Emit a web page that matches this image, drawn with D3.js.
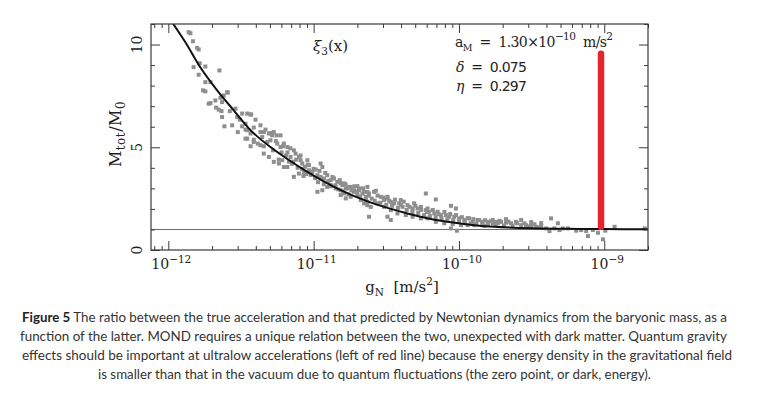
<!DOCTYPE html>
<html><head><meta charset="utf-8">
<script src="https://cdn.jsdelivr.net/npm/d3@7"></script>
<style>
html,body{margin:0;padding:0;background:#fff;}
svg{display:block;}
</style>
</head><body>
<svg id="c" width="757" height="393"></svg>
<script>
// ---------- data ----------
const xDomain = [7.6e-13, 2.0e-9];
const yDomain = [0, 11];
const xMajorTicks = [1e-12, 1e-11, 1e-10, 1e-9];
const xTickExponents = ["−12", "−11", "−10", "−9"];
const yMajorTicks = [0, 5, 10];
const yMinorTicks = [1, 2, 3, 4, 6, 7, 8, 9, 11];
const unityRatio = 1;

// fitted curve (log10 gN, Mtot/M0)
const curveLogG = [-12.0, -11.968, -11.871, -11.779, -11.664, -11.55, -11.434, -11.297, -11.043, -10.814, -10.62, -10.354, -10.124, -9.894, -9.757, -9.5, -9.25, -9.0, -8.7];
const curveRatio = [11.4, 11.03, 9.98, 8.88, 7.77, 6.8, 5.83, 5.01, 3.80, 2.91, 2.34, 1.78, 1.42, 1.21, 1.13, 1.06, 1.03, 1.02, 1.01];

// red marker line
const redLineG = 9.5e-10;
const redLineRange = [1.13, 9.55];

// scatter points (log10 gN)
const scatterLogG = [
-11.860,-11.848,-11.830,-11.802,-11.791,-11.826,-11.784,-11.745,-11.648,-11.791,-11.745,-11.710,-11.761,-11.745,-11.591,-11.676,-11.641,-11.630,-11.710,-11.619,
-11.671,-11.653,-11.634,-11.577,-11.538,-11.630,-11.614,-11.561,-11.526,-11.508,-11.457,-11.430,-11.400,-11.492,-11.469,-11.522,-11.434,-11.412,-11.366,-11.331,
-11.297,-11.457,-11.412,-11.384,-11.354,-11.319,-11.255,-11.434,-11.343,-11.722,-11.595,
-11.492,-11.434,-11.469,-11.457,-11.469,-11.412,-11.366,-11.343,-11.308,-11.285,-11.274,-11.228,-11.297,-11.250,-11.228,-11.205,-11.181,-11.366,-11.343,-11.308,
-11.274,-11.239,-11.216,-11.205,-11.181,-11.159,-11.136,-11.124,-11.101,-11.090,-11.078,-11.043,-11.032,-11.136,-11.101,-11.067,-11.032,-11.009,-10.986,-10.952,
-10.940,-10.974,-10.952,-10.929,-10.906,-10.883,-10.860,-10.837,-10.814,-10.974,-10.940,-10.906,-10.883,-10.848,-10.814,-10.791,-10.768,-10.745,-10.722,-10.699,
-10.688,-10.664,-10.641,-10.630,-10.619,-10.745,-10.779,-10.814,-10.676,-10.653,-10.630,
-10.802,-10.779,-10.757,-10.722,-10.688,-10.653,-10.619,-10.584,-10.572,-10.538,-10.515,-10.492,-10.469,-10.446,-10.412,-10.388,-10.354,-10.319,-10.285,-10.262,
-10.228,-10.205,-10.170,-10.147,-10.124,-10.090,-10.067,-10.032,-9.998,-9.963,-9.929,-9.906,-9.871,-9.837,-9.802,-9.768,-9.733,
-10.630,-10.607,-10.561,-10.515,-10.469,-10.423,-10.366,-10.319,-10.262,-10.216,-10.159,-10.101,-10.043,-9.986,-9.940,-9.894,-9.826,
-10.791,-10.699,-10.630,-10.492,-10.400,-10.308,-10.216,
-10.492,-10.469,-10.228,-10.159,-10.055,-10.021,-10.055,-10.014,
-9.768,-9.745,-9.710,-9.676,-9.641,-9.607,-9.572,-9.538,-9.503,-9.469,-9.434,-9.400,-9.366,-9.377,-9.343,-9.319,-9.308,-9.285,-9.250,-9.193,
-9.159,-9.124,-9.112,-9.078,-9.043,-9.009,-8.993,-8.929,-8.722,-9.676,-9.572,-9.503,-9.434,
-11.22,-11.19,-11.17,-11.15,-11.12,-11.11,-11.08,-11.06,-11.05,-11.02,-11.00,-10.99,-10.97,-10.96,-10.93,-10.92,-10.90,-10.88,-10.87,-10.85,
-10.83,-10.82,-10.80,-10.78,-10.76,-10.74,-10.72,-10.70,-10.68,-10.66,-10.64,-10.62,-10.60,-10.58,-10.56,-10.54,-10.52,-10.50,-10.48,-10.46,
-10.44,-10.42,-10.40,-10.38,-10.36,-10.34,-10.32,-10.30,-10.28,-10.26,-10.24,-10.22,-10.20,-10.18,-10.16,-10.14,-10.12,-10.10,-10.08,-10.06,
-10.04,-10.02,-10.00,-9.98,-9.96,-9.94,-9.92,-9.90,-9.88,-9.86,-9.84,-9.82,-9.80,-9.78,-9.75,-9.72,-9.69,-9.66,-9.63,-9.60,
-9.55,-9.52,-9.48,-9.45,-11.28,-11.26,-11.24,-11.21,-11.18,-11.16,-11.14,-11.09,-11.04,-11.07
];
const scatterRatio = [
10.60,10.55,10.16,9.84,9.76,8.90,9.09,8.93,8.74,8.53,8.17,8.17,7.77,7.72,7.66,7.28,7.41,7.20,7.15,7.52,
6.93,6.83,6.76,6.76,6.88,6.47,6.02,6.07,6.47,6.34,6.64,6.59,6.34,6.02,5.86,5.74,5.67,5.96,5.74,5.86,
5.69,5.42,5.37,5.18,5.50,5.26,5.58,5.05,5.05,7.12,7.68,
6.64,6.60,6.15,5.83,5.42,5.26,6.07,5.74,5.67,5.58,5.74,5.58,5.34,5.18,5.01,5.18,5.01,5.10,4.69,4.53,
4.29,4.21,4.37,4.04,4.04,4.53,4.85,4.69,4.53,4.37,4.21,4.37,4.13,3.56,3.72,3.80,3.88,3.80,3.92,4.21,
4.04,3.64,3.56,3.48,3.64,3.40,3.48,3.32,3.24,2.83,2.91,3.07,3.16,3.00,2.91,2.75,3.00,3.07,2.83,2.67,
2.91,2.75,2.59,2.83,1.62,2.59,2.51,2.67,2.43,2.27,2.18,
3.16,3.00,3.07,2.91,3.00,2.83,2.75,2.83,2.88,2.59,2.43,2.51,2.34,2.27,2.27,2.10,2.18,2.02,2.02,2.10,
1.94,1.86,1.78,1.86,1.70,1.70,1.62,1.62,1.54,1.46,1.54,1.37,1.46,1.37,1.37,1.30,1.30,
2.34,2.10,2.27,2.10,1.94,1.78,1.70,1.62,1.54,1.54,1.37,1.30,1.26,1.21,1.21,1.21,1.18,
3.24,3.11,3.07,2.59,2.43,2.27,2.02,
1.62,1.46,2.75,2.46,2.15,2.02,1.05,0.94,
1.46,1.37,1.37,1.33,1.30,1.37,1.21,1.21,1.17,1.13,1.17,1.05,1.54,0.92,1.05,1.30,0.97,1.05,1.05,0.94,
0.97,0.92,0.68,0.97,0.84,0.52,0.94,1.13,1.05,1.50,1.46,1.36,1.31,
4.75,4.60,4.30,4.20,4.40,4.00,3.95,4.05,3.70,3.65,3.95,3.50,3.30,3.85,3.20,3.75,3.35,3.10,3.55,3.15,
2.95,3.40,2.85,3.20,2.70,2.90,3.10,2.85,2.60,3.00,2.45,2.65,2.50,2.40,2.65,2.30,2.55,2.20,2.40,2.15,
2.45,2.05,2.20,2.35,1.95,2.10,1.85,2.15,1.80,1.95,1.70,1.85,1.65,1.95,1.60,1.75,1.55,1.85,1.50,1.75,
1.45,1.70,1.40,1.60,1.35,1.55,1.30,1.50,1.28,1.45,1.27,1.45,1.25,1.40,1.22,1.42,1.20,1.38,1.18,1.30,
1.30,1.15,1.25,1.10,4.85,5.30,4.40,5.05,4.75,4.95,4.30,4.60,4.15,3.60
];

const captionLines = [
  {bold: "Figure 5", text: " The ratio between the true acceleration and that predicted by Newtonian dynamics from the baryonic mass, as a"},
  {bold: "", text: "function of the latter. MOND requires a unique relation between the two, unexpected with dark matter. Quantum gravity"},
  {bold: "", text: "effects should be important at ultralow accelerations (left of red line) because the energy density in the gravitational field"},
  {bold: "", text: "is smaller than that in the vacuum due to quantum fluctuations (the zero point, or dark, energy)."}
];

// ---------- layout ----------
const L = 151, R = 648, T = 24, B = 250;
const svg = d3.select("#c");
const x = d3.scaleLog().domain(xDomain).range([L, R]);
const y = d3.scaleLinear().domain(yDomain).range([B, T]);
const axisColor = "#3a3a3a";
const serif = "'DejaVu Serif', 'Liberation Serif', serif";
const sans = "'DejaVu Sans', 'Liberation Sans', sans-serif";
const ink = "#222";
const NB = "\u00a0";

svg.append("defs").append("clipPath").attr("id", "plot")
  .append("rect").attr("x", L).attr("y", T).attr("width", R - L).attr("height", B - T);

// unity line
svg.append("line")
  .attr("x1", L).attr("x2", R)
  .attr("y1", y(unityRatio)).attr("y2", y(unityRatio))
  .attr("stroke", "#6a6a6a").attr("stroke-width", 1);

// scatter
const pts = scatterLogG.map((lg, i) => ({g: Math.pow(10, lg), r: scatterRatio[i]}));
const sq = 4;
svg.append("g").attr("clip-path", "url(#plot)")
  .selectAll("rect").data(pts).enter().append("rect")
  .attr("x", d => x(d.g) - sq / 2)
  .attr("y", d => y(d.r) - sq / 2)
  .attr("width", sq).attr("height", sq)
  .attr("fill", "#8e8e8e");

// curve
const curvePts = curveLogG.map((lg, i) => ({g: Math.pow(10, lg), r: curveRatio[i]}));
svg.append("path").attr("clip-path", "url(#plot)")
  .datum(curvePts)
  .attr("fill", "none").attr("stroke", "#111").attr("stroke-width", 2)
  .attr("d", d3.line().x(d => x(d.g)).y(d => y(d.r)).curve(d3.curveCatmullRom.alpha(0.5)));

// red line
svg.append("line")
  .attr("x1", x(redLineG)).attr("x2", x(redLineG))
  .attr("y1", y(redLineRange[0])).attr("y2", y(redLineRange[1]))
  .attr("stroke", "#e3262e").attr("stroke-width", 6.5).attr("stroke-linecap", "round");

// axes
const xMinor = x.ticks().filter(t => !xMajorTicks.some(m => Math.abs(m - t) / m < 1e-6));
function styleAxis(g) {
  g.select(".domain").remove();
  g.selectAll("line").attr("stroke", axisColor).attr("stroke-width", 1);
}
svg.append("g").attr("transform", `translate(0,${B})`)
  .call(d3.axisBottom(x).tickValues(xMajorTicks).tickSize(-9).tickFormat("")).call(styleAxis);
svg.append("g").attr("transform", `translate(0,${B})`)
  .call(d3.axisBottom(x).tickValues(xMinor).tickSize(-4).tickFormat("")).call(styleAxis);
svg.append("g").attr("transform", `translate(0,${T})`)
  .call(d3.axisTop(x).tickValues(xMajorTicks).tickSize(-9).tickFormat("")).call(styleAxis);
svg.append("g").attr("transform", `translate(0,${T})`)
  .call(d3.axisTop(x).tickValues(xMinor).tickSize(-4).tickFormat("")).call(styleAxis);
svg.append("g").attr("transform", `translate(${L},0)`)
  .call(d3.axisLeft(y).tickValues(yMajorTicks).tickSize(-9).tickFormat("")).call(styleAxis);
svg.append("g").attr("transform", `translate(${L},0)`)
  .call(d3.axisLeft(y).tickValues(yMinorTicks).tickSize(-4).tickFormat("")).call(styleAxis);
svg.append("g").attr("transform", `translate(${R},0)`)
  .call(d3.axisRight(y).tickValues(yMajorTicks).tickSize(-9).tickFormat("")).call(styleAxis);
svg.append("g").attr("transform", `translate(${R},0)`)
  .call(d3.axisRight(y).tickValues(yMinorTicks).tickSize(-4).tickFormat("")).call(styleAxis);

// frame
svg.append("rect").attr("x", L).attr("y", T).attr("width", R - L).attr("height", B - T)
  .attr("fill", "none").attr("stroke", axisColor).attr("stroke-width", 1.2);

// x tick labels
xMajorTicks.forEach((t, i) => {
  const tx = svg.append("text").attr("x", x(t) + 3).attr("y", B + 19)
    .attr("text-anchor", "middle").attr("font-family", serif).attr("font-size", 14).attr("fill", ink);
  tx.append("tspan").text("10");
  tx.append("tspan").attr("dy", -6).attr("font-size", 10.5).text(xTickExponents[i]);
});

// y tick labels (rotated)
yMajorTicks.forEach(t => {
  svg.append("text")
    .attr("transform", `translate(${L - 9},${y(t)}) rotate(-90)`)
    .attr("text-anchor", "middle").attr("font-family", serif).attr("font-size", 14).attr("fill", ink)
    .text(String(t));
});

// rich text helper
function rich(parent, parts, attrs) {
  const t = parent.append("text");
  Object.entries(attrs).forEach(([k, v]) => t.attr(k, v));
  let shift = 0;
  parts.forEach(p => {
    const s = t.append("tspan").text(p.t);
    let target = 0;
    if (p.sub) target = 4;
    if (p.sup) target = -7;
    if (target !== shift) { s.attr("dy", target - shift); shift = target; }
    if (p.sub || p.sup) s.attr("font-size", p.size || 10.5);
    if (p.italic) s.attr("font-style", "italic");
    if (p.family) s.attr("font-family", p.family);
  });
  return t;
}

// axis titles
rich(svg, [{t: "g"}, {t: "N", sub: true}, {t: NB + NB + "[m/s"}, {t: "2", sup: true}, {t: "]"}],
  {x: 402, y: 292, "text-anchor": "middle", "font-family": serif, "font-size": 15, fill: ink});
const yl = svg.append("g").attr("transform", "translate(121,134) rotate(-90)");
rich(yl, [{t: "M"}, {t: "tot", sub: true, size: 12}, {t: "/M"}, {t: "0", sub: true, size: 12}],
  {x: 0, y: 0, "text-anchor": "middle", "font-family": serif, "font-size": 16, fill: ink, "letter-spacing": 0.5});

// annotations
rich(svg, [{t: "ξ", italic: true}, {t: "3", sub: true}, {t: "(x)"}],
  {x: 313, y: 51, "font-family": serif, "font-size": 15, fill: ink});
rich(svg, [{t: "a"}, {t: "M", sub: true, size: 9.5}, {t: NB + NB + "=" + NB + NB + "1.30×10"}, {t: "−10", sup: true}, {t: NB + NB + "m/s"}, {t: "2", sup: true}],
  {x: 455, y: 47, "font-family": serif, "font-size": 14, fill: ink, textLength: 158, lengthAdjust: "spacing"});
rich(svg, [{t: "δ", italic: true}, {t: NB + NB + "=" + NB + NB}, {t: "0.075", family: sans}],
  {x: 456, y: 72, "font-family": serif, "font-size": 14, fill: ink, textLength: 71, lengthAdjust: "spacing"});
rich(svg, [{t: "η", italic: true}, {t: NB + NB + "=" + NB + NB}, {t: "0.297", family: sans}],
  {x: 456, y: 91, "font-family": serif, "font-size": 14, fill: ink, textLength: 71, lengthAdjust: "spacing"});

// caption
const capY = [322, 341, 360, 379];
const capSpan = [[22, 727], [20, 727], [22, 732], [98, 651]];
captionLines.forEach((c, i) => {
  const t = svg.append("text")
    .attr("x", capSpan[i][0]).attr("y", capY[i])
    .attr("font-family", "Lato, 'Open Sans', sans-serif").attr("font-size", 13).attr("fill", "#333")
    .attr("textLength", capSpan[i][1] - capSpan[i][0]).attr("lengthAdjust", "spacingAndGlyphs");
  if (c.bold) t.append("tspan").attr("font-weight", "bold").attr("fill", "#222").text(c.bold);
  t.append("tspan").text(c.text);
});
</script>
</body></html>
